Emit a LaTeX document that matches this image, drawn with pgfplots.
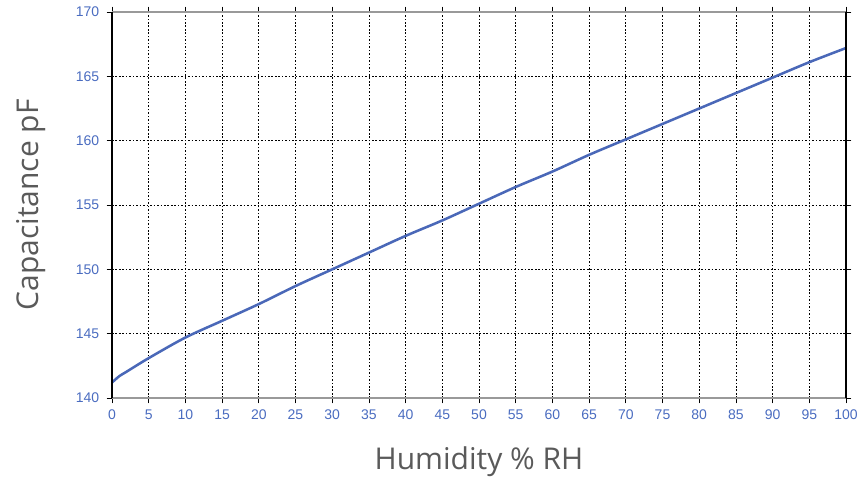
\documentclass[border=0pt]{standalone}
\usepackage{pgfplots}
\pgfplotsset{compat=1.18}
\usepackage{fontspec}
\setmainfont{Liberation Sans}
\newfontfamily\labelfont{Open Sans}
\definecolor{curve}{HTML}{4A68B8}
\definecolor{ticktxt}{HTML}{4A6CC0}
\definecolor{lbl}{HTML}{5A5A5A}
\begin{document}
\begin{tikzpicture}[x=1pt,y=1pt]
\useasboundingbox (-84,-66) rectangle (561,298.5);
\begin{axis}[
  at={(0,0)}, anchor=south west,
  scale only axis, width=550.5pt, height=289.5pt,
  xmin=0, xmax=100, ymin=140, ymax=170,
  xtick={0,5,...,100}, ytick={140,145,...,170},
  grid=major,
  grid style={black, line width=0.6pt, dash pattern=on 1.2pt off 1.4pt},
  axis line style={draw=none},
  tick align=outside,
  major tick length=4pt,
  tick style={black, line width=0.6pt},
  ticklabel style={font=\fontsize{10.5}{12}\selectfont, text=ticktxt},
  /pgf/number format/assume math mode=true,
  xticklabel style={yshift=-1pt},
  yticklabel style={xshift=-2pt},
  xlabel={Humidity \% RH},
  ylabel={Capacitance pF},
  label style={font=\labelfont\fontsize{22.5}{26}\selectfont, text=lbl},
  xlabel style={at={(rel axis cs:0.5,0)}, anchor=center, yshift=-48pt},
  ylabel style={at={(rel axis cs:0,0.5)}, anchor=center, xshift=0pt, yshift=61pt},
  clip=false,
]
\addplot[curve, line width=1.9pt, smooth] coordinates {
(0,141.2) (1,141.7) (2,142.05) (5,143.1) (10,144.7) (15,146.0) (20,147.3)
(25,148.7) (30,150.0) (35,151.3) (40,152.6) (45,153.8) (50,155.1)
(55,156.4) (60,157.6) (65,158.9) (70,160.1) (75,161.3) (80,162.5)
(85,163.7) (90,164.9) (95,166.1) (100,167.2)
};
\draw[gray!80, line width=1.3pt] (rel axis cs:0,0) -- (rel axis cs:1,0);
\draw[gray!80, line width=1.3pt] (rel axis cs:0,1) -- (rel axis cs:1,1);
\draw[black, line width=0.8pt] (rel axis cs:0,0) -- (rel axis cs:0,1);
\draw[black, line width=0.8pt] (rel axis cs:1,0) -- (rel axis cs:1,1);
\end{axis}
\end{tikzpicture}
\end{document}
